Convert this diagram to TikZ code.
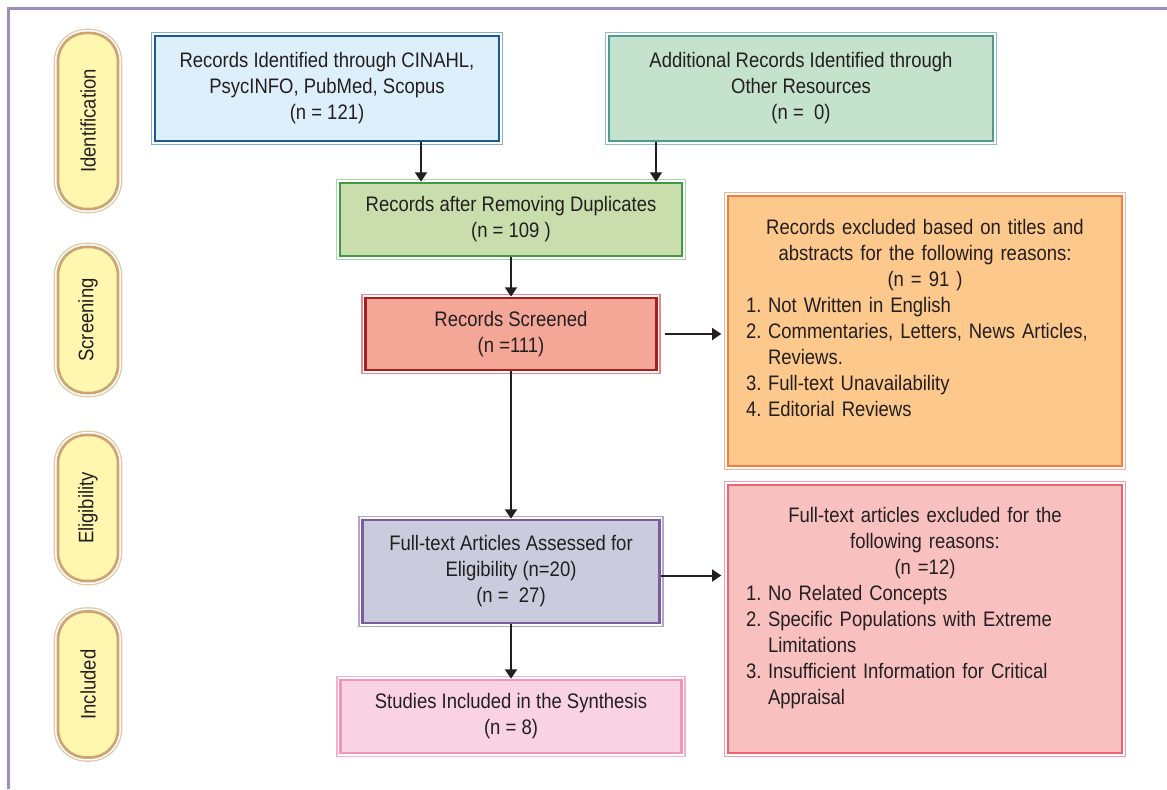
\documentclass[tikz,border=0pt]{standalone}
\usepackage{fontspec}
\setmainfont{Liberation Sans}[FakeStretch=0.88]
\usetikzlibrary{arrows.meta, positioning}
\definecolor{ink}{HTML}{231F20}
\definecolor{frm}{HTML}{A08CC0}
\definecolor{blu}{HTML}{DDEFFB}\definecolor{blud}{HTML}{1C5A96}\definecolor{blul}{HTML}{7FAFD6}
\definecolor{tea}{HTML}{C4E2CC}\definecolor{tead}{HTML}{4F9A94}\definecolor{teal}{HTML}{8CC3BF}
\definecolor{grn}{HTML}{C9DDAD}\definecolor{grnd}{HTML}{3F9A47}\definecolor{grnl}{HTML}{A6D7A4}
\definecolor{red}{HTML}{F5A797}\definecolor{redd}{HTML}{A51E22}\definecolor{redl}{HTML}{E6898A}
\definecolor{org}{HTML}{FDC88B}\definecolor{orgd}{HTML}{F47C3C}\definecolor{orgl}{HTML}{F8B39A}
\definecolor{vio}{HTML}{CACBDC}\definecolor{viod}{HTML}{7A5C9E}\definecolor{viol}{HTML}{B2A5CF}
\definecolor{pnk}{HTML}{F9D3E3}\definecolor{pnkd}{HTML}{F295BA}\definecolor{pnkl}{HTML}{F5B2CE}
\definecolor{ros}{HTML}{F8C1C0}\definecolor{rosd}{HTML}{EF6273}\definecolor{rosl}{HTML}{F49CA7}
\definecolor{yel}{HTML}{FFF6B0}\definecolor{yeld}{HTML}{CDA472}\definecolor{yell}{HTML}{E2C9A7}
\tikzset{block/.style n args={3}{rectangle, fill=#1, draw=#2, line width=2pt,
    preaction={draw=#3, line width=6.4pt},
    preaction={draw=white, line width=4.4pt},
    text=ink, align=center, inner sep=4pt}}
\tikzset{phase/.style={block={yel}{yeld}{yell}, rotate=90, rounded corners=21pt,
    minimum height=45pt}}
\tikzstyle{every node}=[font=\fontsize{15.75}{19.5}\selectfont]
\tikzstyle{list}=[align=left, text width=268.5pt, minimum width=295.5pt]
\tikzstyle{flow}=[draw=ink, line width=1.5pt]
\newcommand{\reason}[2]{\par\hangindent=16.5pt\hangafter=1\noindent
    \makebox[16.5pt][l]{#1}{\def\\{\hfil\break}#2}}

\begin{document}
\begin{tikzpicture}[x=0.75pt, y=0.75pt, >={Triangle[length=7pt,width=9pt]}]
    \useasboundingbox (0,0) rectangle (1167,-789);
    \draw[frm, line width=2.25pt] (8,-789) -- (8,-8) -- (1167,-8);
    % stages
    \node[phase, minimum width=132pt] (ident) at (88,-121) {Identification};
    \node[phase, minimum width=109.5pt] (screen) at (88,-320) {Screening};
    \node[phase, minimum width=109.5pt] (elig) at (88,-508) {Eligibility};
    \node[phase, minimum width=109.5pt] (incl) at (88,-684.5) {Included};
    % boxes
    \node[block={blu}{blud}{blul}, minimum width=258pt, minimum height=78.75pt] (b1) at (327,-88.5)
        {Records Identified through CINAHL,\\ PsycINFO, PubMed, Scopus\\ (n = 121)};
    \node[block={tea}{tead}{teal}, minimum width=288pt, minimum height=78.75pt] (b2) at (801,-88.5)
        {Additional Records Identified through\\ Other Resources\\ (n = \ 0)};
    \node[block={grn}{grnd}{grnl}, minimum width=256.5pt, minimum height=54.75pt] (b3) at (511,-219.5)
        {Records after Removing Duplicates\\ (n = 109 )};
    \node[block={red}{redd}{redl}, minimum width=218.25pt, minimum height=54pt] (b4) at (511,-334)
        {Records Screened\\ (n =111)};
    \node[block={org}{orgd}{orgl}, list, minimum height=202.5pt] (b5) at (925,-331)
        {{\centering Records excluded based on titles and\\ abstracts for the following reasons:\\ (n = 91 )\par}
        \reason{1.}{Not Written in English}
        \reason{2.}{Commentaries, Letters, News Articles,\\ Reviews.}
        \reason{3.}{Full-text Unavailability}
        \reason{4.}{Editorial Reviews}\par\vspace{19.5pt}};
    \node[block={vio}{viod}{viol}, minimum width=222.75pt, minimum height=77.25pt] (b6) at (511,-571.5)
        {Full-text Articles Assessed for\\ Eligibility (n=20)\\ (n = \ 27)};
    \node[block={pnk}{pnkd}{pnkl}, minimum width=255.75pt, minimum height=54.75pt] (b7) at (511,-716.5)
        {Studies Included in the Synthesis\\ (n = 8)};
    \node[block={ros}{rosd}{rosl}, list, minimum height=201pt] (b8) at (925,-619)
        {{\centering Full-text articles excluded for the\\ following reasons:\\ (n =12)\par}
        \reason{1.}{No Related Concepts}
        \reason{2.}{Specific Populations with Extreme\\ Limitations}
        \reason{3.}{Insufficient Information for Critical\\ Appraisal}\par\vspace{17pt}};
    % arrows
    \coordinate (c1) at (421,0);
    \coordinate (c2) at (656,0);
    \draw[flow, ->] (b1.south -| c1) -- (b3.north -| c1);
    \draw[flow, ->] (b2.south -| c2) -- (b3.north -| c2);
    \draw[flow, ->] (b3) -- (b4);
    \draw[flow, ->, shorten <=5pt, shorten >=4pt] (b4.east) -- (b4.east -| b5.west);
    \draw[flow, ->] (b4) -- (b6);
    \draw[flow, ->, shorten >=4pt] ([yshift=-3pt]b6.east) -- ([yshift=-3pt]b6.east -| b8.west);
    \draw[flow, ->] (b6) -- (b7);
\end{tikzpicture}
\end{document}
